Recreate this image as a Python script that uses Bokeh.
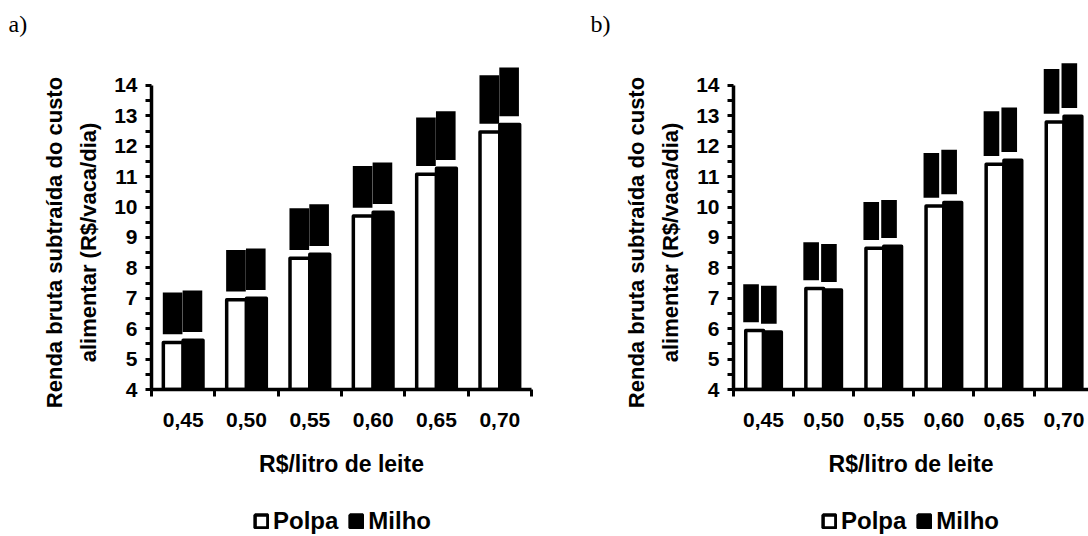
import numpy as np
from bokeh.plotting import figure
from bokeh.models import Range1d, FixedTicker, Legend, LegendItem, ColumnDataSource
from bokeh.core.properties import value
from bokeh.layouts import row, column
from bokeh.embed import file_html
from bokeh.resources import INLINE

# ---------------- data ----------------
categories = ["0,45", "0,50", "0,55", "0,60", "0,65", "0,70"]
polpa_a = [5.55, 6.95, 8.32, 9.71, 11.08, 12.47]
milho_a = [5.62, 7.00, 8.45, 9.83, 11.28, 12.72]
polpa_b = [5.94, 7.32, 8.65, 10.04, 11.41, 12.80]
milho_b = [5.89, 7.27, 8.71, 10.15, 11.54, 12.99]
series_names = ["Polpa", "Milho"]
y_ticks = list(range(4, 15))
y_title_1 = "Renda bruta subtraída do custo"
y_title_2 = "alimentar (R$/vaca/dia)"
x_title = "R$/litro de leite"

FONT = "Liberation Sans"
H = 536
MAIN_H = 498
FRAME_TOP = 40
FRAME_BOTTOM = 389
Y0, Y1 = 4, 15.48
GAP = 0.27
PAD = "\u00a0" * 9   # shifts the centred y title down to the reference position


def fmt(v):
    return f"{v:.2f}".replace(".", ",")


def panel(letter, polpa, milho, fig_width, border_left, border_right, cat_px,
          bar_w, box_w, box_off, box_h4, box_h5, legend_x):
    frame_w = fig_width - border_left - border_right
    x0 = -0.5
    x_end = x0 + frame_w / cat_px

    p = figure(width=fig_width, height=MAIN_H, x_range=Range1d(x0, x_end),
               y_range=Range1d(Y0, Y1), output_backend="svg", toolbar_location=None,
               min_border_left=border_left, min_border_right=border_right,
               min_border_top=FRAME_TOP, min_border_bottom=MAIN_H - FRAME_BOTTOM)
    p.grid.visible = False
    p.outline_line_color = None
    p.background_fill_color = "white"
    p.border_fill_color = "white"

    xs = np.arange(len(categories), dtype=float)
    src_p = ColumnDataSource(dict(x=xs - bar_w / 2, top=polpa))
    src_m = ColumnDataSource(dict(x=xs + bar_w / 2, top=milho))
    p.vbar(x="x", top="top", bottom=Y0, width=bar_w, source=src_p,
           fill_color="white", line_color="black", line_width=3.5, line_join="round")
    p.vbar(x="x", top="top", bottom=Y0, width=bar_w, source=src_m,
           fill_color="black", line_color="black", line_width=3.5, line_join="round")

    # data-label boxes (rendered as solid black blocks in the reference)
    for vals, sign in ((polpa, -1), (milho, 1)):
        labels = [fmt(v) for v in vals]
        cx = xs + sign * bar_w / 2 + box_off
        bottom = np.array(vals) + GAP
        top = bottom + np.array([box_h4 if len(s) <= 4 else box_h5 for s in labels])
        p.quad(left=cx - box_w / 2, right=cx + box_w / 2, bottom=bottom, top=top,
               fill_color="black", line_color=None)

    # x axis
    xa = p.xaxis[0]
    xa.ticker = FixedTicker(ticks=list(xs), minor_ticks=list(np.arange(-0.5, 6.0, 1.0)))
    xa.major_label_overrides = {int(i): c for i, c in enumerate(categories)}
    xa.major_tick_out = 0
    xa.major_tick_in = 0
    xa.minor_tick_out = 7
    xa.minor_tick_in = 0
    xa.minor_tick_line_width = 3
    xa.minor_tick_line_color = "black"
    xa.axis_line_width = 3.5
    xa.axis_line_color = "black"
    xa.bounds = (-0.5, 5.5)
    xa.major_label_text_font = FONT
    xa.major_label_text_font_style = "bold"
    xa.major_label_text_font_size = "21px"
    xa.major_label_text_color = "black"
    xa.major_label_standoff = 16
    xa.axis_label = x_title
    xa.axis_label_text_font = FONT
    xa.axis_label_text_font_style = "bold"
    xa.axis_label_text_font_size = "23px"
    xa.axis_label_text_color = "black"
    xa.axis_label_standoff = 21

    # y axis
    ya = p.yaxis[0]
    ya.ticker = FixedTicker(ticks=y_ticks, minor_ticks=list(np.arange(4.5, 14.0, 1.0)))
    ya.bounds = (4, 14)
    ya.major_tick_out = 6
    ya.major_tick_in = 0
    ya.minor_tick_out = 6
    ya.minor_tick_in = 0
    ya.major_tick_line_width = 3
    ya.minor_tick_line_width = 3
    ya.major_tick_line_color = "black"
    ya.minor_tick_line_color = "black"
    ya.axis_line_width = 3.5
    ya.axis_line_color = "black"
    ya.major_label_text_font = FONT
    ya.major_label_text_font_style = "bold"
    ya.major_label_text_font_size = "21px"
    ya.major_label_text_color = "black"
    ya.major_label_standoff = 8
    ya.axis_label = y_title_1 + PAD + "\n" + y_title_2 + PAD
    ya.axis_label_text_font = FONT
    ya.axis_label_text_font_style = "bold"
    ya.axis_label_text_font_size = "22px"
    ya.axis_label_text_color = "black"
    ya.axis_label_text_line_height = 1.36
    ya.axis_label_standoff = 10

    # panel letter as the plot title
    p.title.text = letter
    p.title.align = "left"
    p.title.offset = -143
    p.title.standoff = 7
    p.title.text_font = "Liberation Serif"
    p.title.text_font_style = "normal"
    p.title.text_font_size = "24px"
    p.title.text_color = "black"

    # legend strip under the chart (its frame is aligned with the chart's frame)
    lf = figure(width=fig_width, height=H - MAIN_H, x_range=Range1d(0, 1),
                y_range=Range1d(0, 1), output_backend="svg", toolbar_location=None,
                x_axis_location=None, y_axis_location=None, min_border=0)
    lf.grid.visible = False
    lf.outline_line_color = None
    lf.background_fill_color = "white"
    lf.border_fill_color = "white"
    dp = lf.vbar(x=[np.nan], top=[np.nan], bottom=[np.nan], width=0.1,
                 fill_color="white", line_color="black", line_width=3.5)
    dm = lf.vbar(x=[np.nan], top=[np.nan], bottom=[np.nan], width=0.1,
                 fill_color="black", line_color="black", line_width=3.5)
    leg = Legend(items=[LegendItem(label=value(series_names[0]), renderers=[dp]),
                        LegendItem(label=value(series_names[1]), renderers=[dm])],
                 location=(legend_x - border_left, 1), orientation="horizontal",
                 padding=0, margin=0, spacing=10, label_standoff=4,
                 glyph_width=16, glyph_height=16,
                 label_text_font=FONT, label_text_font_style="bold",
                 label_text_font_size="24px", label_text_color="black",
                 border_line_color=None, background_fill_alpha=0)
    lf.add_layout(leg)
    return column(p, lf, spacing=0)


pa = panel("a)", polpa_a, milho_a, 544, 151, 13, 380 / 6,
           0.313, 0.31, -0.01, 1.37, 1.60, 253)
pb = panel("b)", polpa_b, milho_b, 544, 189, 0, 60.1,
           0.296, 0.26, -0.06, 1.25, 1.47, 821 - 544)

layout = row(pa, pb, spacing=0)
open("out.html", "w").write(file_html(layout, INLINE))
